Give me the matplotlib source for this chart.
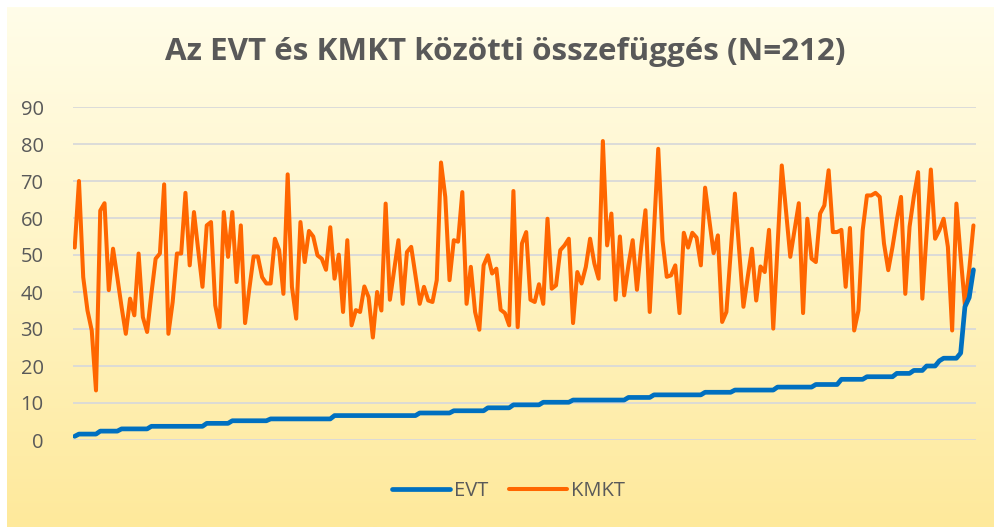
import numpy as np
import matplotlib
matplotlib.use("Agg")
import matplotlib.pyplot as plt
from matplotlib.colors import LinearSegmentedColormap

title = "Az EVT és KMKT közötti összefüggés (N=212)"
series_names = ["EVT", "KMKT"]
y_ticks = [0, 10, 20, 30, 40, 50, 60, 70, 80, 90]

evt = [
    1.0,
    1.6, 1.6, 1.6, 1.6, 1.6,
    2.4, 2.4, 2.4, 2.4, 2.4,
    3.0, 3.0, 3.0, 3.0, 3.0, 3.0, 3.0,
    3.7, 3.7, 3.7, 3.7, 3.7, 3.7, 3.7, 3.7, 3.7, 3.7, 3.7, 3.7, 3.7,
    4.5, 4.5, 4.5, 4.5, 4.5, 4.5,
    5.2, 5.2, 5.2, 5.2, 5.2, 5.2, 5.2, 5.2, 5.2,
    5.7, 5.7, 5.7, 5.7, 5.7, 5.7, 5.7, 5.7, 5.7, 5.7, 5.7, 5.7, 5.7, 5.7, 5.7,
    6.6, 6.6, 6.6, 6.6, 6.6, 6.6, 6.6, 6.6, 6.6, 6.6,
    6.6, 6.6, 6.6, 6.6, 6.6, 6.6, 6.6, 6.6, 6.6, 6.6,
    7.3, 7.3, 7.3, 7.3, 7.3, 7.3, 7.3, 7.3,
    7.9, 7.9, 7.9, 7.9, 7.9, 7.9, 7.9, 7.9,
    8.7, 8.7, 8.7, 8.7, 8.7, 8.7,
    9.5, 9.5, 9.5, 9.5, 9.5, 9.5, 9.5,
    10.2, 10.2, 10.2, 10.2, 10.2, 10.2, 10.2,
    10.8, 10.8, 10.8, 10.8, 10.8, 10.8, 10.8, 10.8, 10.8, 10.8, 10.8, 10.8, 10.8,
    11.5, 11.5, 11.5, 11.5, 11.5, 11.5,
    12.2, 12.2, 12.2, 12.2, 12.2, 12.2, 12.2, 12.2, 12.2, 12.2, 12.2, 12.2,
    12.9, 12.9, 12.9, 12.9, 12.9, 12.9, 12.9,
    13.5, 13.5, 13.5, 13.5, 13.5, 13.5, 13.5, 13.5, 13.5, 13.5,
    14.3, 14.3, 14.3, 14.3, 14.3, 14.3, 14.3, 14.3, 14.3,
    15.0, 15.0, 15.0, 15.0, 15.0, 15.0,
    16.4, 16.4, 16.4, 16.4, 16.4, 16.4,
    17.1, 17.1, 17.1, 17.1, 17.1, 17.1, 17.1,
    18.0, 18.0, 18.0, 18.0,
    18.8, 18.8, 18.8,
    20.0, 20.0, 20.0,
    21.4,
    22.1, 22.1, 22.1, 22.1,
    23.5,
    36.0,
    38.5,
    46.0,
]

kmkt = [
    52, 70, 44, 35, 29.6, 13.4, 62, 64, 40.5, 51.7,
    44, 36, 28.7, 38.2, 33.7, 50.4, 33.2, 29.2, 39.5, 49,
    50.4, 69.1, 28.7, 37.3, 50.4, 50.4, 66.8, 47.2, 61.6, 51.3,
    41.4, 58, 58.9, 36.4, 30.5,
    61.6, 49.5, 61.6, 42.7, 58, 31.6, 40.9, 49.6, 49.6, 44,
    42.3, 42.3, 54.4, 51.3, 39.5, 71.8, 41.4, 32.8, 58.9, 48.1,
    56.5, 55, 49.9, 49, 46, 57.5, 43.6, 50.1, 34.6, 54,
    31, 35.1, 34.6, 41.5, 38.6,
    27.7, 40, 35, 63.9, 37.9, 45.9, 54, 36.8, 50.8, 52.2,
    44.5, 36.8, 41.4, 37.7, 37.3, 43.2, 75, 65.7, 43.2, 54,
    53.6, 67, 36.8, 46.8, 34.6, 29.8, 47.2, 49.9, 45, 46.3,
    35.2, 34.3, 31, 67.3, 30.5,
    53.1, 56.2, 37.9, 37.3, 42.1, 36.8, 59.8, 40.9, 41.8, 51.3,
    52.6, 54.4, 31.6, 45.4, 42.3, 46.8, 54.4, 47.7, 43.6, 80.8,
    52.6, 61.2, 37.9, 55, 39.1, 47.2, 54, 40.6, 52.2, 62.1,
    34.6, 56.7, 78.7, 54, 44.1, 44.5,
    47.2, 34.3, 56, 52, 56, 54.7, 47.2, 68.2, 59.4, 50.5,
    55.3, 31.9, 34.6, 50.5, 66.6, 51.3, 36, 44, 51.7, 37.7,
    46.9, 45.4, 56.8, 30.1, 52, 74.2, 61.9, 49.5, 56.7, 64,
    34.3, 59.8, 49, 48.1, 61.2,
    63.4, 72.9, 56.2, 56.2, 56.8, 41.4, 57.3, 29.6, 35, 56.7,
    66.1, 66.1, 66.8, 65.7, 53.1, 45.9, 52.2, 59.4, 65.7, 39.5,
    57.6, 65.7, 72.4, 38.2, 55.8, 73.1, 54.4, 56.7, 59.8, 52.2,
    29.6, 63.9, 49.5, 36.4, 45.9, 58,
]

plt.rcParams['font.family'] = ['Open Sans', 'DejaVu Sans']
text_color = "#595959"

W, H = 995, 527
fig = plt.figure(figsize=(W / 100, H / 100), dpi=100)
fig.patch.set_facecolor("white")

# gradient background panel
bg = fig.add_axes([7 / W, 0, 1 - 7 / W, 1 - 7 / H], zorder=0)
cmap = LinearSegmentedColormap.from_list("bg", ["#FFFDE9", "#FFF4C4", "#FEE99B"])
grad = np.linspace(0, 1, 256).reshape(-1, 1)
bg.imshow(grad, aspect="auto", cmap=cmap, extent=[0, 1, 0, 1], origin="upper")
bg.set_axis_off()

ax = fig.add_axes([72.7 / W, (H - 440) / H, 903 / W, 333 / H], zorder=1)
ax.patch.set_alpha(0)
x = np.arange(len(kmkt))
ax.plot(x, evt, color="#0070C0", lw=3.4, solid_joinstyle="round", solid_capstyle="round",
        label=series_names[0], zorder=3)
ax.plot(x, kmkt, color="#FF6600", lw=2.9, solid_joinstyle="round", solid_capstyle="round",
        label=series_names[1], zorder=2)

ax.set_xlim(-0.47, len(kmkt) - 1 + 0.53)
ax.set_ylim(0, 90)
ax.set_yticks(y_ticks)
ax.set_xticks([])
ax.grid(axis="y", color="#D9D9D9", lw=1.3, zorder=0)
ax.set_axisbelow(True)
for s in ax.spines.values():
    s.set_visible(False)
ax.tick_params(axis="y", length=0, pad=21, labelsize=14.5, labelcolor=text_color)

fig.text(0.508, (H - 52) / H, title, ha="center", va="center", fontsize=22.6,
         fontweight="bold", color=text_color)

leg = fig.legend(loc="center", bbox_to_anchor=(0.511, (H - 491) / H), ncol=2,
                 frameon=False, fontsize=14.5, handlelength=2.9, columnspacing=1.0,
                 handletextpad=0.2)
for t in leg.get_texts():
    t.set_color(text_color)

fig.savefig("out.png", dpi=100)
